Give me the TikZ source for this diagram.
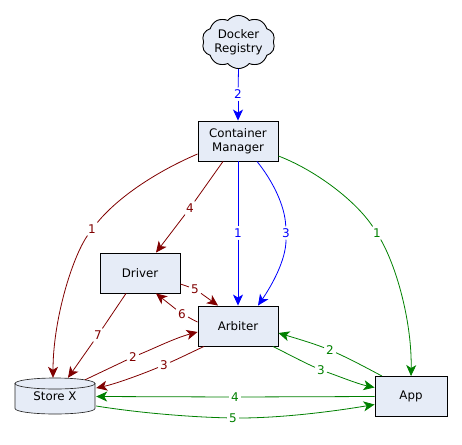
\documentclass[tikz,border=0pt]{standalone}
\usepackage{fontspec}
\setmainfont{DejaVu Sans}
\usetikzlibrary{arrows.meta,calc,shapes.symbols}
\definecolor{boxfill}{HTML}{E6ECF7}
\definecolor{cred}{HTML}{800000}
\definecolor{cgreen}{HTML}{008000}
\definecolor{cblue}{HTML}{0000FF}
\tikzset{
  txt/.style={font=\fontsize{11.8}{14}\selectfont,text=black,align=center},
  box/.style={txt,draw=black,line width=0.9pt,fill=boxfill,inner sep=0pt},
  lab/.style={font=\fontsize{12}{14}\selectfont,inner sep=2pt},
  conn/.style={line width=0.8pt,-{Stealth[length=11pt,width=10pt,inset=3pt]}},
  plain/.style={line width=0.8pt},
  redc/.style={draw=cred,fill=none,text=cred,color=cred},
  greenc/.style={draw=cgreen,text=cgreen,color=cgreen},
  bluec/.style={draw=cblue,text=cblue,color=cblue},
  storeline/.style={line width=0.65pt,draw=black!85,fill=boxfill}
}
\begin{document}
\begin{tikzpicture}[x=1pt,y=-1pt]
\useasboundingbox (0,0) rectangle (462,444);
% main nodes
\node[box,shape=cloud,cloud puffs=10,cloud puff arc=100,aspect=1.5,minimum width=73pt,minimum height=48pt] (reg) at (238.5,42) {Docker\\Registry};
\node[box,minimum width=80pt,minimum height=40pt] (cm) at (238,141) {Container\\Manager};
\node[box,minimum width=80pt,minimum height=40pt] (drv) at (140,273) {Driver};
\node[box,minimum width=80pt,minimum height=40pt] (arb) at (238,326) {Arbiter};
\node[box,minimum width=72pt,minimum height=40pt] (app) at (411,396.5) {App};
% store cylinder
\draw[storeline] (15,383.5) -- (15,408.5) arc[start angle=180,end angle=360,x radius=40pt,y radius=5.5pt] -- (95,383.5) -- cycle;
\draw[storeline] (55,383.5) ellipse[x radius=40pt,y radius=5.5pt];
\node[txt,inner sep=0pt,minimum width=80pt,minimum height=36pt] (st) at (55,396) {\raisebox{-2pt}{Store X}};
% labels
\node[lab,text=cblue] (lb2) at (238,94) {2};
\node[lab,text=cblue] (lb1) at (238,233) {1};
\node[lab,text=cblue] (lb3) at (286,233) {3};
\node[lab,text=cred] (lr1) at (92,229) {1};
\node[lab,text=cred] (lr4) at (190,208) {4};
\node[lab,text=cred] (lr5) at (195,289) {5};
\node[lab,text=cred] (lr6) at (182,314) {6};
\node[lab,text=cred] (lr7) at (98,335) {7};
\node[lab,text=cred] (lr2) at (133,357) {2};
\node[lab,text=cred] (lr3) at (164,365) {3};
\node[lab,text=cgreen] (lg1) at (377,233) {1};
\node[lab,text=cgreen] (lg2) at (330,350) {2};
\node[lab,text=cgreen] (lg3) at (321,370) {3};
\node[lab,text=cgreen] (lg4) at (235,397) {4};
\node[lab,text=cgreen] (lg5) at (233,418) {5};
% blue
\draw[plain,bluec] (reg.south) -- (lb2);
\draw[conn,bluec] (lb2) -- (cm.north);
\draw[plain,bluec] (cm.south) -- (lb1);
\draw[conn,bluec] (lb1) -- (arb.north);
\draw[plain,bluec] ($(cm.south)+(19,0)$) .. controls (272,180) and (285,205) .. (lb3);
\draw[conn,bluec] (lb3) .. controls (286,260) and (272,285) .. ($(arb.north)+(20,0)$);
% red
\draw[plain,redc] ($(cm.west)+(0,13)$) .. controls (160,170) and (120,195) .. (lr1);
\draw[conn,redc] (lr1) .. controls (72,258) and (53,320) .. ($(st.north)+(-2,0)$);
\draw[plain,redc] ($(cm.south)+(-15,0)$) -- (lr4);
\draw[conn,redc] (lr4) -- ($(drv.north)+(16,0)$);
\draw[plain,redc] ($(drv.east)+(0,11)$) -- (lr5);
\draw[conn,redc] (lr5) -- ($(arb.north)+(-20,0)$);
\draw[plain,redc] ($(arb.west)+(0,-4)$) .. controls (193,320) and (190,318) .. (lr6);
\draw[conn,redc] (lr6) -- ($(drv.south)+(16,0)$);
\draw[plain,redc] ($(drv.south)+(-14,0)$) -- (lr7);
\draw[conn,redc] (lr7) -- ($(st.north)+(13,0)$);
\draw[plain,redc] ($(st.north)+(30,2)$) -- (lr2);
\draw[conn,redc] (lr2) .. controls (155,348) and (175,338) .. ($(arb.west)+(0,6)$);
\draw[plain,redc] ($(arb.south)+(-34,0)$) .. controls (192,352) and (180,358) .. (lr3);
\draw[conn,redc] (lr3) .. controls (140,375) and (115,384) .. ($(st.east)+(1,-8)$);
% green
\draw[plain,greenc] ($(cm.east)+(0,15)$) .. controls (315,170) and (355,200) .. (lg1);
\draw[conn,greenc] (lg1) .. controls (398,270) and (412,325) .. (app.north);
\draw[plain,greenc] ($(app.north)+(-29,0)$) .. controls (365,367) and (350,359) .. (lg2);
\draw[conn,greenc] (lg2) .. controls (312,343) and (295,338) .. ($(arb.east)+(0,7)$);
\draw[plain,greenc] ($(arb.south)+(35,0)$) .. controls (288,354) and (303,362) .. (lg3);
\draw[conn,greenc] (lg3) .. controls (338,376) and (358,384) .. ($(app.west)+(0,-9)$);
\draw[plain,greenc] (app.west) -- (lg4);
\draw[conn,greenc] (lg4) -- ($(st.east)+(1,0.5)$);
\draw[plain,greenc] ($(st.east)+(1,10)$) .. controls (140,413) and (190,417) .. (lg5);
\draw[conn,greenc] (lg5) .. controls (280,418) and (330,412) .. ($(app.west)+(0,8)$);
\end{tikzpicture}
\end{document}
